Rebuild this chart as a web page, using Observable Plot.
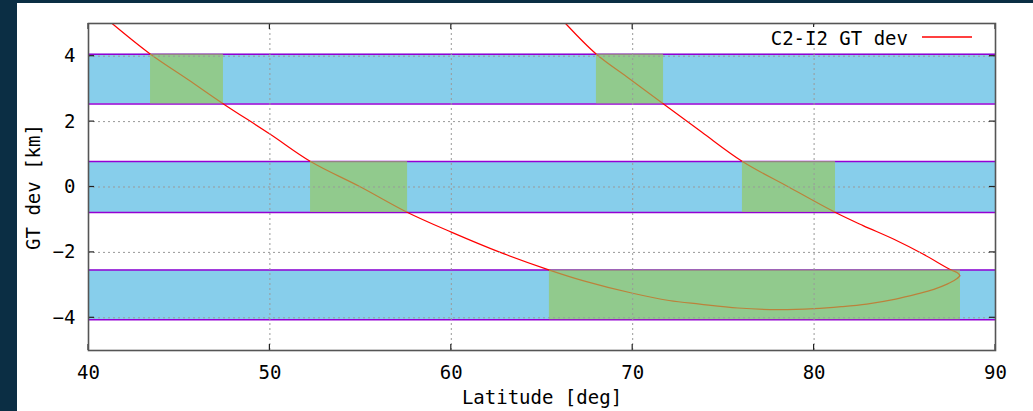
<!DOCTYPE html>
<html>
<head>
<meta charset="utf-8">
<script src="https://cdn.jsdelivr.net/npm/d3@7"></script>
<script src="https://cdn.jsdelivr.net/npm/@observablehq/plot@0.6"></script>
<style>
  html, body { margin: 0; padding: 0; background: #0b2e44; width: 1033px; height: 411px; overflow: hidden; }
  #chart { position: absolute; left: 17px; top: 3px; width: 1016px; height: 408px; background: #fff; }
</style>
</head>
<body>
<div id="chart"></div>
<script>
// Curve: GT deviation vs latitude (in path order)
const curveLat = [41.3, 43.42, 45.5, 47.44, 50, 52.24, 55, 57.59, 60, 62.7, 65.41, 67.3, 70, 72, 73.7, 75.8, 78, 80, 81.5, 82.9, 84.5, 85.7, 86.6, 87.33, 87.8, 88.03, 87.9, 87.56, 86, 84.4, 82.7, 81.18, 78.6, 76.05, 73.8, 71.7, 69.8, 68.0, 66.3];
const curveDev = [5.0, 4.06, 3.28, 2.54, 1.62, 0.78, 0.0, -0.78, -1.38, -2.0, -2.54, -2.87, -3.25, -3.47, -3.58, -3.7, -3.75, -3.72, -3.66, -3.58, -3.43, -3.27, -3.13, -2.97, -2.83, -2.71, -2.62, -2.54, -2.05, -1.6, -1.18, -0.78, 0.0, 0.78, 1.68, 2.54, 3.32, 4.06, 5.0];

// Blue bands
const bandLow = [2.54, -0.78, -4.06];
const bandHigh = [4.06, 0.78, -2.54];

// Green boxes
const boxLat1 = [43.42, 68.0, 52.24, 76.05, 65.41];
const boxLat2 = [47.44, 71.7, 57.59, 81.18, 88.07];
const boxLow = [2.54, 2.54, -0.78, -0.78, -4.06];
const boxHigh = [4.06, 4.06, 0.78, 0.78, -2.54];

const xTicks = [40, 50, 60, 70, 80, 90];
const yTicks = [-4, -2, 0, 2, 4];
const legendLabel = "C2-I2 GT dev";

const curve = curveLat.map((v, i) => ({lat: v, dev: curveDev[i]}));
const bands = bandLow.map((v, i) => ({lo: v, hi: bandHigh[i]}));
const edges = bandLow.concat(bandHigh);
const boxes = boxLat1.map((v, i) => ({x1: v, x2: boxLat2[i], y1: boxLow[i], y2: boxHigh[i]}));

const FONT = "DejaVu Sans Mono";
const FS = 19;

function ticksAndLegend(index, scales, values, dimensions) {
  const {width, height, marginLeft, marginRight, marginTop, marginBottom} = dimensions;
  const L = marginLeft, R = width - marginRight, T = marginTop, B = height - marginBottom;
  const g = d3.create("svg:g");
  const len = 6;
  for (const t of xTicks) {
    const x = scales.x(t);
    g.append("line").attr("x1", x).attr("x2", x).attr("y1", B).attr("y2", B - len).attr("stroke", "#222").attr("stroke-width", 1.2);
    g.append("line").attr("x1", x).attr("x2", x).attr("y1", T).attr("y2", T + len).attr("stroke", "#222").attr("stroke-width", 1.2);
  }
  for (const t of yTicks) {
    const y = scales.y(t);
    g.append("line").attr("x1", L).attr("x2", L + len).attr("y1", y).attr("y2", y).attr("stroke", "#222").attr("stroke-width", 1.2);
    g.append("line").attr("x1", R).attr("x2", R - len).attr("y1", y).attr("y2", y).attr("stroke", "#222").attr("stroke-width", 1.2);
  }
  // legend
  g.append("rect").attr("x", R - 235).attr("y", T + 4).attr("width", 225).attr("height", 20).attr("fill", "#fff");
  g.append("text").attr("x", R - 87).attr("y", T + 15).attr("text-anchor", "end").attr("dominant-baseline", "central")
    .attr("font-family", FONT).attr("font-size", FS).attr("fill", "#000").text(legendLabel);
  g.append("line").attr("x1", R - 73).attr("x2", R - 23).attr("y1", T + 14).attr("y2", T + 14).attr("stroke", "red").attr("stroke-width", 1.3);
  return g.node();
}

const chart = Plot.plot({
  width: 1016,
  height: 408,
  marginLeft: 71,
  marginTop: 20,
  marginRight: 38,
  marginBottom: 61,
  style: {fontFamily: FONT, fontSize: FS + "px", color: "#000", background: "transparent"},
  x: {domain: [40, 90]},
  y: {domain: [-5, 5]},
  marks: [
    Plot.rect(bands, {y1: "lo", y2: "hi", fill: "#87ceeb"}),
    Plot.ruleY(edges, {stroke: "#9400d3", strokeWidth: 1.6}),
    Plot.line(curve, {x: "lat", y: "dev", stroke: "red", strokeWidth: 1.2, clip: true, curve: "catmull-rom"}),
    Plot.rect(boxes, {x1: "x1", x2: "x2", y1: "y1", y2: "y2", fill: "rgb(150,200,90)", fillOpacity: 0.65}),
    Plot.gridX(xTicks.slice(1, -1), {stroke: "#999", strokeOpacity: 1, strokeWidth: 1, strokeDasharray: "2,3"}),
    Plot.gridY(yTicks, {stroke: "#999", strokeOpacity: 1, strokeWidth: 1, strokeDasharray: "2,3"}),
    ticksAndLegend,
    Plot.frame({stroke: "#555", strokeWidth: 1.6}),
    Plot.axisX(xTicks, {anchor: "bottom", tickSize: 0, tickPadding: 15, label: "Latitude [deg]", labelAnchor: "center", labelArrow: "none", labelOffset: 53, fontSize: FS}),
    Plot.axisY(yTicks, {anchor: "left", tickSize: 0, tickPadding: 13, label: "GT dev [km]", labelAnchor: "center", labelArrow: "none", labelOffset: 62, fontSize: FS, tickFormat: d => d < 0 ? "\u2212" + Math.abs(d) : String(d)})
  ]
});
document.getElementById("chart").appendChild(chart);
</script>
</body>
</html>
